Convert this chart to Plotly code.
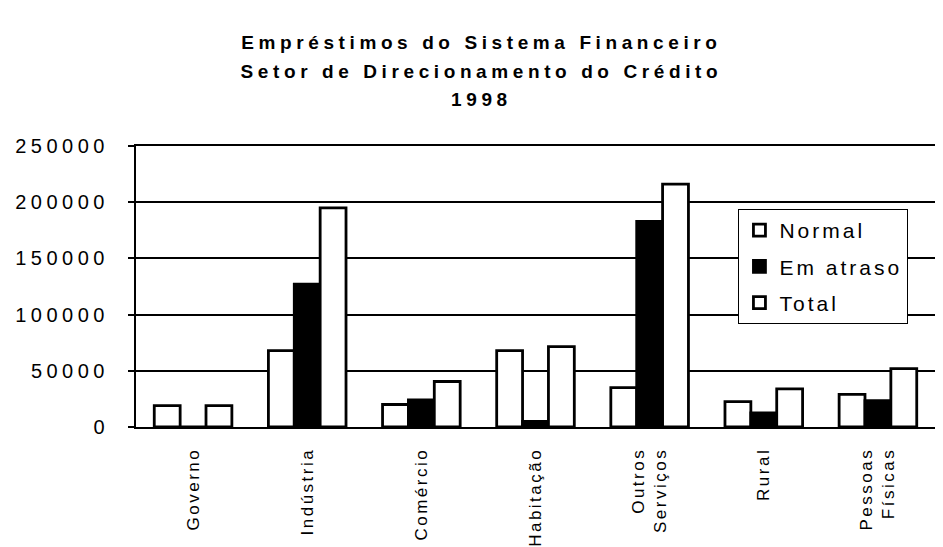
import plotly.graph_objects as go

categories = ["Governo", "Indústria", "Comércio", "Habitação",
              "Outros<br>Serviços", "Rural", "Pessoas<br>Físicas"]
normal = [19000, 68000, 20000, 68000, 35000, 22500, 29000]
em_atraso = [0, 127000, 24000, 5000, 183000, 12500, 23500]
total = [19000, 195000, 40500, 71500, 216000, 34000, 52000]
y_ticks = [0, 50000, 100000, 150000, 200000, 250000]
series_names = ["Normal", "Em atraso", "Total"]
title_lines = ["Empréstimos do Sistema Financeiro",
               "Setor de Direcionamento do Crédito", "1998"]

FONT = "Liberation Sans"


def spaced(text, ls, size=None):
    style = f"letter-spacing:{ls}px"
    if size:
        style += f";font-size:{size}px"
    return "<br>".join(f'<span style="{style}">{t}</span>' for t in text.split("<br>"))


fig = go.Figure()
colors = ["white", "black", "white"]
for name, vals, col in zip(series_names, [normal, em_atraso, total], colors):
    fig.add_trace(go.Bar(
        x=categories, y=vals, name=spaced(name, 3), legendgroup=name,
        marker=dict(color=col, line=dict(color="black", width=2.8)),
    ))

fig.update_layout(
    width=943, height=547,
    paper_bgcolor="white", plot_bgcolor="white",
    margin=dict(l=128, r=16, t=138, b=128),
    barmode="group", bargap=0.32, bargroupgap=0,
    title=dict(
        text="<b>" + "<br>".join(spaced(t, 4.6, 19) for t in title_lines) + "</b>",
        x=0.502, xref="container", xanchor="center",
        y=1 - 41 / 547, yref="container", yanchor="top",
        font=dict(family=FONT, size=22, color="black"),
    ),
    legend=dict(
        x=0.754, y=0.776, xanchor="left", yanchor="top",
        bgcolor="white", bordercolor="black", borderwidth=1,
        font=dict(family=FONT, size=21, color="black"),
        tracegroupgap=6, traceorder="grouped",
    ),
    showlegend=True,
    font=dict(family=FONT, color="black"),
)
fig.update_xaxes(
    tickvals=categories, ticktext=[spaced(c, 2.5) for c in categories],
    tickangle=-90, showline=True, linecolor="black", linewidth=2, mirror=True,
    tickfont=dict(family=FONT, size=17, color="black"),
    ticklabelstandoff=12, showgrid=False, automargin=False,
)
fig.update_yaxes(
    range=[0, 250000], tickvals=y_ticks, ticktext=[spaced(str(v), 4.5) for v in y_ticks],
    showline=True, linecolor="black", linewidth=2, mirror=True,
    showgrid=True, gridcolor="black", gridwidth=2,
    ticks="outside", ticklen=6, tickcolor="black", tickwidth=2,
    tickfont=dict(family=FONT, size=20, color="black"),
    ticklabelstandoff=15, zeroline=False, automargin=False,
)
fig.write_html("out.html")
